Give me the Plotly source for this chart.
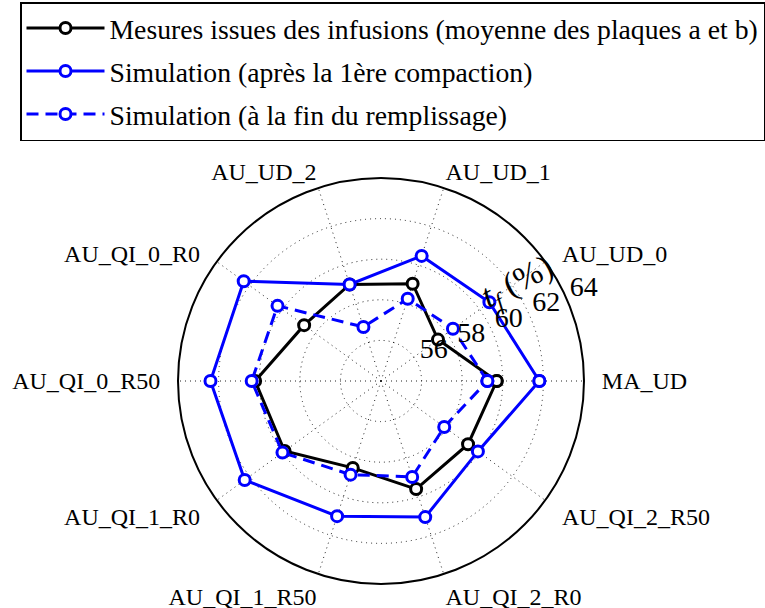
import plotly.graph_objects as go

categories = ["MA_UD", "AU_UD_0", "AU_UD_1", "AU_UD_2", "AU_QI_0_R0",
              "AU_QI_0_R50", "AU_QI_1_R0", "AU_QI_1_R50", "AU_QI_2_R0", "AU_QI_2_R50"]
mesures = [59.7, 57.47, 59.04, 59.0, 58.68, 60.2, 59.87, 58.5, 59.6, 59.3]
sim_compaction = [61.8, 60.6, 60.48, 59.0, 62.36, 62.4, 62.3, 61.0, 61.05, 59.9]
sim_remplissage = [59.24, 58.38, 58.26, 56.8, 60.3, 60.37, 60.0, 58.85, 58.97, 57.85]
names = ["Mesures issues des infusions (moyenne des plaques a et b)",
         "Simulation (après la 1ère compaction)",
         "Simulation (à la fin du remplissage)"]
radial_ticks = [56, 58, 60, 62, 64]
radial_range = [54, 64]

FONT = "Liberation Serif"
NB = "\u00a0"

def closed(v):
    return list(v) + [v[0]]

# tick labels with a little horizontal padding (labels sit a bit away from the circle)
pad_left = {"MA_UD", "AU_UD_0", "AU_QI_2_R50"}          # right-hand labels
pad_right = {"AU_QI_0_R50", "AU_QI_0_R0", "AU_QI_1_R0"}  # left-hand labels
angular_text = []
for c in categories:
    if c in pad_left:
        angular_text.append(NB * 2 + c)
    elif c in pad_right:
        angular_text.append(c + NB * 2)
    else:
        angular_text.append(c)

fig = go.Figure()
specs = [(mesures, "black", "solid"),
         (sim_compaction, "#0000ff", "solid"),
         (sim_remplissage, "#0000ff", "12px,7px")]
for i, ((vals, col, dash), name) in enumerate(zip(specs, names)):
    fig.add_trace(go.Scatterpolar(
        r=closed(vals), theta=closed(categories), mode="lines+markers", name=name,
        legendgroup=f"g{i}", hoverinfo="skip",
        line=dict(color=col, width=3, dash=dash),
        marker=dict(symbol="circle", size=11, color="white",
                    line=dict(color=col, width=3)),
    ))

# invisible companion subplot that only carries the radial tick labels
fig.add_trace(go.Scatterpolar(r=[], theta=[], subplot="polar2", showlegend=False,
                              hoverinfo="skip"))

cx, cy, R = 381, 381, 203
lx, ly = cx + 37, cy - 3

fig.update_layout(
    width=765, height=608,
    margin=dict(l=0, r=0, t=0, b=0),
    paper_bgcolor="white",
    font=dict(family=FONT, size=24, color="black"),
    showlegend=True,
    legend=dict(x=20/765, y=1-2/608, xanchor="left", yanchor="top",
                bordercolor="black", borderwidth=1.5, bgcolor="white",
                itemwidth=78, tracegroupgap=4,
                font=dict(family=FONT, size=27.7)),
    polar=dict(
        domain=dict(x=[(cx-R)/765, (cx+R)/765], y=[1-(cy+R)/608, 1-(cy-R)/608]),
        bgcolor="white",
        angularaxis=dict(direction="counterclockwise", rotation=0,
                         tickmode="array", tickvals=categories, ticktext=angular_text,
                         showline=True, linecolor="black", linewidth=2,
                         showgrid=True, gridcolor="#222", gridwidth=1, griddash="1px,4px",
                         ticks="", tickfont=dict(family=FONT, size=24)),
        radialaxis=dict(range=radial_range, tickvals=radial_ticks, angle=22.5,
                        showticklabels=False, showline=False, ticks="",
                        showgrid=True, gridcolor="#222", gridwidth=1, griddash="1px,4px"),
    ),
    polar2=dict(
        domain=dict(x=[(lx-R)/765, (lx+R)/765], y=[1-(ly+R)/608, 1-(ly-R)/608]),
        bgcolor="rgba(0,0,0,0)",
        angularaxis=dict(visible=False, showgrid=False, showline=False),
        radialaxis=dict(range=radial_range, tickvals=radial_ticks, angle=22.5,
                        tickangle=22.5, side="counterclockwise",
                        showline=False, ticks="", showgrid=False,
                        tickfont=dict(family=FONT, size=28)),
    ),
    annotations=[dict(text="<i>t<sub>f</sub></i>\u00a0(%)", x=518/765, y=1-283/608,
                      xref="paper", yref="paper", xanchor="center", yanchor="middle",
                      showarrow=False, textangle=-27,
                      font=dict(family=FONT, size=34))],
)

fig.write_html("out.html", post_script="document.body.style.margin='0';",
               config={"displayModeBar": False})
